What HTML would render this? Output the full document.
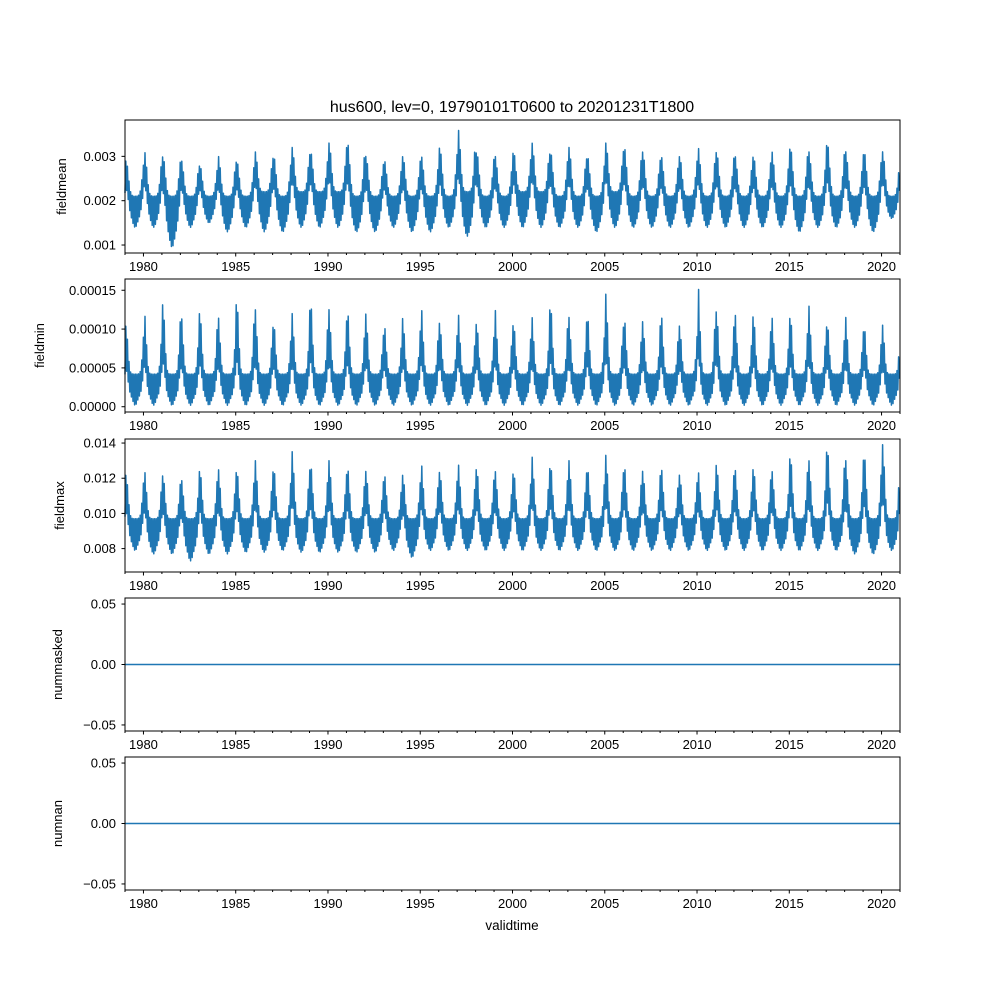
<!DOCTYPE html>
<html><head><meta charset="utf-8"><style>
body{margin:0;background:#fff;}
svg{display:block;font-family:"Liberation Sans","DejaVu Sans",sans-serif;}
</style></head><body>
<svg id="fig" width="1000" height="1000" viewBox="0 0 1000 1000">
<rect width="1000" height="1000" fill="#fff"/>
<text x="512" y="112" font-size="16" text-anchor="middle">hus600, lev=0, 19790101T0600 to 20201231T1800</text>
<text x="512" y="930" font-size="13.5" text-anchor="middle">validtime</text>
</svg>
<script>
const years = [1979,1980,1981,1982,1983,1984,1985,1986,1987,1988,1989,1990,1991,1992,1993,1994,1995,1996,1997,1998,1999,2000,2001,2002,2003,2004,2005,2006,2007,2008,2009,2010,2011,2012,2013,2014,2015,2016,2017,2018,2019,2020];
const xTicks = [1980,1985,1990,1995,2000,2005,2010,2015,2020];
const meanPeak = [0.0029,0.0031,0.0030,0.0029,0.0028,0.0030,0.0029,0.0031,0.0030,0.0032,0.0031,0.0033,0.0033,0.0030,0.0029,0.0030,0.0030,0.0032,0.0036,0.0031,0.0030,0.0031,0.0033,0.0031,0.0032,0.0030,0.0033,0.0032,0.0031,0.0030,0.0030,0.0032,0.0031,0.0030,0.0030,0.0031,0.0032,0.0031,0.0033,0.0031,0.0031,0.0031];
const meanLow = [0.0014,0.0014,0.00095,0.0014,0.0015,0.0013,0.0014,0.0013,0.0013,0.0014,0.0014,0.0014,0.0013,0.0013,0.0014,0.0013,0.0013,0.0014,0.0012,0.0014,0.0014,0.0014,0.0014,0.0014,0.0014,0.0013,0.0014,0.0014,0.0014,0.0014,0.0014,0.0014,0.0014,0.0014,0.0014,0.0014,0.0013,0.0014,0.0014,0.0014,0.0013,0.0016];
const meanBase = [0.0021,0.0021,0.0021,0.0021,0.0021,0.0021,0.0021,0.0022,0.0021,0.0022,0.0022,0.0022,0.0021,0.0021,0.0021,0.0021,0.0021,0.0021,0.0022,0.0021,0.0021,0.0022,0.0022,0.0021,0.0021,0.0021,0.0022,0.0021,0.0021,0.0021,0.0021,0.0021,0.0021,0.0021,0.0021,0.0021,0.0021,0.0021,0.0021,0.0021,0.0021,0.0021];
const minPeak = [0.000105,0.00012,0.000135,0.000115,0.000125,0.000115,0.00014,0.000125,0.00011,0.00012,0.000138,0.000125,0.000125,0.00012,0.000105,0.000115,0.000128,0.00011,0.00012,0.00011,0.000125,0.00011,0.000115,0.000135,0.000115,0.00012,0.000145,0.000115,0.00011,0.00012,0.000105,0.000157,0.000125,0.00012,0.00012,0.000115,0.00012,0.00013,0.00011,0.000115,0.000105,0.000105];
const minLow = [0.000002,0.000002,0.000002,0.000002,0.000002,0.000002,0.000002,0.000002,0.000002,0.000002,0.000002,0.000002,0.000002,0.000002,0.000002,0.000002,0.000002,0.000002,0.000002,0.000002,0.000002,0.000002,0.000002,0.000002,0.000002,0.000002,0.000002,0.000002,0.000002,0.000002,0.000002,0.000002,0.000002,0.000002,0.000002,0.000002,0.000002,0.000002,0.000002,0.000002,0.000002,0.000002];
const minBase = [0.000042,0.000042,0.000042,0.000042,0.000042,0.000042,0.000042,0.000042,0.000042,0.000042,0.000042,0.000042,0.000042,0.000042,0.000042,0.000042,0.000042,0.000042,0.000042,0.000042,0.000042,0.000042,0.000042,0.000042,0.000042,0.000042,0.000042,0.000042,0.000042,0.000042,0.000042,0.000042,0.000042,0.000042,0.000042,0.000042,0.000042,0.000042,0.000042,0.000042,0.000042,0.000042];
const maxPeak = [0.0122,0.0124,0.0122,0.0119,0.0125,0.0125,0.0125,0.0130,0.0126,0.0135,0.0128,0.0130,0.0126,0.0124,0.0122,0.0122,0.0128,0.0124,0.0128,0.0126,0.0124,0.0124,0.0132,0.0128,0.0130,0.0126,0.0133,0.0127,0.0124,0.0126,0.0122,0.0124,0.0128,0.0125,0.0126,0.0124,0.0133,0.0130,0.0138,0.0130,0.0134,0.0139];
const maxLow = [0.0079,0.0077,0.0077,0.0073,0.0077,0.0077,0.0078,0.0078,0.0079,0.0078,0.0078,0.0078,0.0078,0.0078,0.0079,0.0075,0.0079,0.0079,0.0079,0.0079,0.0079,0.0079,0.0079,0.0079,0.0079,0.0079,0.0079,0.0079,0.0079,0.0079,0.0079,0.0079,0.0079,0.0079,0.0079,0.0079,0.0079,0.0079,0.0079,0.0077,0.0077,0.0079];
const maxBase = [0.0097,0.0097,0.0097,0.0097,0.0097,0.0097,0.0097,0.0097,0.0097,0.0097,0.0097,0.0097,0.0097,0.0097,0.0097,0.0097,0.0097,0.0097,0.0097,0.0097,0.0097,0.0097,0.0097,0.0097,0.0097,0.0097,0.0097,0.0097,0.0097,0.0097,0.0097,0.0097,0.0097,0.0097,0.0097,0.0097,0.0097,0.0097,0.0097,0.0097,0.0097,0.0097];
const zeroTimes = [1979,2021];
const zeroValues = [0,0];

const NS='http://www.w3.org/2000/svg';
const svg=document.getElementById('fig');
const X0=125,X1=900,T0=1979,T1=2021;
function xs(t){return X0+(t-T0)/(T1-T0)*(X1-X0);}
function mk(tag,attrs,parent){const e=document.createElementNS(NS,tag);for(const k in attrs)e.setAttribute(k,attrs[k]);(parent||svg).appendChild(e);return e;}

const panels=[
 {name:'fieldmean',top:120,bot:253,ymin:0.00082,ymax:0.00382,ticks:[0.001,0.002,0.003],fmt:v=>v.toFixed(3),peak:meanPeak,low:meanLow,base:meanBase,lx:66,w:0.17,lf:0.4,sw:0},
 {name:'fieldmin',top:279,bot:412,ymin:-0.0000068,ymax:0.0001645,ticks:[0,0.00005,0.0001,0.00015],fmt:v=>v.toFixed(5),peak:minPeak,low:minLow,base:minBase,lx:44,w:0.14,lf:0.3,sw:0.1},
 {name:'fieldmax',top:439,bot:572,ymin:0.00667,ymax:0.01423,ticks:[0.008,0.010,0.012,0.014],fmt:v=>v.toFixed(3),peak:maxPeak,low:maxLow,base:maxBase,lx:64,w:0.15,lf:0.35,sw:0.05},
 {name:'nummasked',top:598,bot:731,ymin:-0.055,ymax:0.055,ticks:[-0.05,0,0.05],fmt:v=>v.toFixed(2),zero:true,lx:62},
 {name:'numnan',top:757,bot:890,ymin:-0.055,ymax:0.055,ticks:[-0.05,0,0.05],fmt:v=>v.toFixed(2),zero:true,lx:62}
];

panels.forEach(p=>{
 const g=mk('g',{});
 
 
 const ys=v=>p.bot-(v-p.ymin)/(p.ymax-p.ymin)*(p.bot-p.top);
 let d='';
 if(p.zero){
  zeroTimes.forEach((t,i)=>{d+=(i?'L':'M')+xs(t).toFixed(1)+' '+ys(zeroValues[i]).toFixed(1);});
 } else {
  let k=0;
  for(let px=X0;px<=X1;px+=0.8,k++){
   const t=T0+(px-X0)/(X1-X0)*(T1-T0);
   const i=Math.min(years.length-1,Math.floor(t-T0));
   const f=t-T0-i; const dd=Math.min(Math.abs(f-0.06),1-Math.abs(f-0.06));
   const bump=Math.exp(-Math.pow(dd/p.w,2));
   const sharp=Math.exp(-Math.pow(dd/(p.w*0.35),2));
   const up=p.base[i]+(p.peak[i]-p.base[i])*((1-p.sw)*bump+p.sw*sharp);
   const dip=Math.exp(-Math.pow(Math.min(Math.abs(f-0.55),1-Math.abs(f-0.55))/0.18,2));
   const lo=p.low[i]+(p.base[i]-p.low[i])*0.35*(1-dip)+(p.peak[i]-p.low[i])*p.lf*bump;
   const v=(k%2)?up:lo;
   d+=(k?'L':'M')+px.toFixed(1)+' '+ys(v).toFixed(1);
  }
 }
 const path=mk('path',{d:d,fill:'none',stroke:'#1f77b4','stroke-width':1.5,'stroke-linejoin':'round'},g);
 
 
 const fr=mk('rect',{x:X0,y:p.top,width:X1-X0,height:p.bot-p.top,fill:'none',stroke:'#000','stroke-width':1},g);
 
 
 p.ticks.forEach(v=>{
  const y=ys(v);
  mk('line',{x1:X0-3.5,x2:X0,y1:y,y2:y,stroke:'#000'},g);
  const tx=mk('text',{x:X0-9,y:y+4.5,'font-size':13,'text-anchor':'end'},g);
  tx.textContent=p.fmt(v).replace('-','\u2212');
  
  
 });
 years.concat([2021]).forEach(yr=>{
  const x=xs(yr), major=xTicks.includes(yr);
  mk('line',{x1:x,x2:x,y1:p.bot,y2:p.bot+(major?3.5:2),stroke:'#000'},g);
 });
 xTicks.forEach(yr=>{
  const tx=mk('text',{x:xs(yr),y:p.bot+18,'font-size':13,'text-anchor':'middle'},g);
  tx.textContent=yr;
  
  
 });
 const cy=(p.top+p.bot)/2;
 const lab=mk('text',{x:p.lx,y:cy,'font-size':13,'text-anchor':'middle',transform:'rotate(-90 '+p.lx+' '+cy+')'},g);
 lab.textContent=p.name;
 
 
});
</script>
</body></html>
